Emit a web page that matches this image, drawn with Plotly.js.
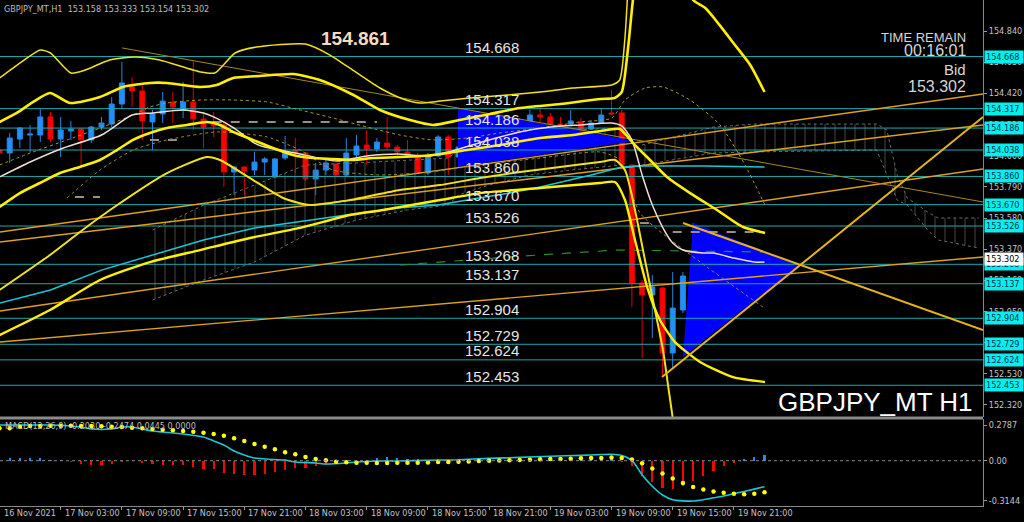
<!DOCTYPE html>
<html><head><meta charset="utf-8">
<script src="https://cdn.plot.ly/plotly-3.0.1.min.js"></script>
<style>html,body{margin:0;padding:0;background:#000;}#chart{width:1024px;height:522px;}</style>
</head><body><div id="chart"></div>
<script>
// ---------- DATA (bar index 0 = 16 Nov 21:00, H1 bars) ----------
const opens  = [154.038,154.018,154.112,154.139,154.139,154.261,154.112,154.166,154.180,154.106,
                154.193,154.213,154.348,154.463,154.436,154.227,154.281,154.362,154.308,154.362,
                154.247,154.220,154.207,153.890,153.924,153.903,153.957,153.856,153.984,154.038,
                154.018,153.843,153.903,153.944,153.870,154.005,154.072,154.045,154.085,154.058,
                154.025,153.998,153.883,153.998,154.126,153.991,154.058,154.186,154.247,154.213,
                154.160,154.153,154.207,154.274,154.261,154.213,154.213,154.227,154.180,154.220,
                154.288,154.288,153.937,153.142,153.061,153.108,152.670,152.960,153.182,153.263,
                153.317,153.364,153.216,153.209,153.236,153.158];
const highs  = [154.052,154.153,154.193,154.207,154.314,154.294,154.261,154.234,154.186,154.200,
                154.261,154.395,154.631,154.530,154.476,154.308,154.429,154.429,154.496,154.638,
                154.294,154.294,154.227,153.930,153.930,154.025,153.991,153.984,154.133,154.119,
                154.025,153.951,153.971,153.951,154.119,154.139,154.173,154.119,154.261,154.072,
                154.106,154.018,154.018,154.139,154.139,154.072,154.227,154.267,154.281,154.240,
                154.240,154.254,154.308,154.321,154.288,154.261,154.308,154.254,154.240,154.321,
                154.443,154.308,153.937,153.162,153.196,153.115,153.216,153.216,153.546,153.378,
                153.418,153.438,153.283,153.297,153.344,153.333];
const lows   = [154.005,153.951,154.052,154.025,154.092,154.092,153.991,154.106,153.924,154.085,
                154.173,154.193,154.321,154.328,154.106,154.038,154.220,154.220,154.254,154.173,
                154.052,154.126,153.789,153.735,153.735,153.870,153.870,153.850,153.971,153.883,
                153.829,153.735,153.870,153.856,153.856,153.991,153.937,154.025,154.038,153.991,
                153.984,153.876,153.870,153.991,153.870,153.971,154.038,154.166,154.173,154.166,
                154.126,154.139,154.186,154.227,154.193,154.173,154.207,154.166,154.173,154.213,
                154.274,153.917,152.980,152.636,152.771,152.508,152.569,152.940,153.014,153.209,
                153.250,153.162,153.176,153.196,153.223,153.154];
const closes = [154.018,154.119,154.186,154.146,154.261,154.112,154.173,154.180,154.106,154.193,
                154.220,154.348,154.490,154.436,154.234,154.281,154.368,154.328,154.362,154.247,
                154.193,154.200,153.890,153.924,153.897,153.957,153.978,153.978,154.025,154.018,
                153.843,153.903,153.951,153.870,154.018,154.065,154.045,154.092,154.058,154.025,
                153.998,153.883,153.998,154.126,153.991,154.058,154.193,154.234,154.200,154.193,
                154.207,154.207,154.274,154.261,154.213,154.200,154.234,154.173,154.220,154.274,
                154.281,153.937,153.142,153.061,153.115,152.670,152.973,153.189,153.263,153.317,
                153.364,153.209,153.203,153.236,153.283,153.302];

const tickBars   = [0,6,12,18,24,30,36,42,48,54,60,66,72];
const tickLabels = ["16 Nov 2021","17 Nov 03:00","17 Nov 09:00","17 Nov 15:00","17 Nov 21:00",
                    "18 Nov 03:00","18 Nov 09:00","18 Nov 15:00","18 Nov 21:00","19 Nov 03:00",
                    "19 Nov 09:00","19 Nov 15:00","19 Nov 21:00"];
const priceTicks = [154.840,154.630,154.420,154.210,154.000,153.790,153.580,153.370,153.160,152.950,152.740,152.530,152.320];
const levels     = [154.668,154.317,154.186,154.038,153.860,153.670,153.526,153.268,153.137,152.904,152.729,152.624,152.453];
const bidPrice   = 153.302;
const highMark   = "154.861";

// moving averages
const maK  = [0,3,6,10,13,15,18,20,21,23,25,26,29,33,36,39,42,44,48,51,54,57,60,61,62,63,64,65,66,67,69,70,72,74,75];
const maV  = [153.856,153.957,154.045,154.139,154.274,154.288,154.308,154.288,154.261,154.186,
              154.085,154.058,154.018,153.964,153.998,154.011,153.998,154.025,154.106,154.160,
              154.193,154.207,154.220,154.200,154.106,153.870,153.667,153.519,153.411,153.364,
              153.344,153.344,153.310,153.283,153.283];
const slowK = [0,5,10,15,20,25,29,34,39,43,47,50,53,58,61,63,69,75];
const slowV = [153.007,153.095,153.229,153.331,153.432,153.513,153.553,153.600,153.647,153.667,153.715,153.748,153.789,153.870,153.924,153.930,153.930,153.924];

// band lines
const outerUpK = [0,2,4,5,7,8.4,10.8,13.3,15.7,19.7,21.1,23.1,25.2,30,32.4,34.9,37.3,39.3,41.2,43.2,46.1,49.8,53,56.2,60,60.8,61.3,61.6];
const outerUpV = [154.523,154.624,154.712,154.692,154.557,154.577,154.645,154.665,154.645,154.564,154.557,154.692,154.732,154.752,154.678,154.564,154.456,154.389,154.355,154.368,154.389,154.409,154.429,154.456,154.476,154.510,154.779,155.116];
const upK = [0,1.7,3.3,4.95,6.9,9.85,12.1,14.75,16.4,19.7,21.3,22.9,25.5,28.8,31.4,34.7,37.3,40.25,42.5,45.1,48.1,51,55,58.9,60.3,61,61.6,62.1,62.4,63.3,65.7,68,69.2,70.6,72.1,73.6,75];
const upV = [154.227,154.288,154.362,154.422,154.355,154.395,154.463,154.490,154.490,154.463,154.476,154.523,154.537,154.550,154.510,154.409,154.308,154.240,154.207,154.240,154.281,154.321,154.348,154.382,154.389,154.429,154.712,155.049,155.184,155.453,155.386,155.049,154.995,154.880,154.746,154.611,154.429];
const lo1K = [0,2,3.97,5.93,7.89,9.85,11.52,13.09,14.75,16.42,18.38,20.34,21.62,22.89,24.85,26.81,28.77,30.74,32.7,34.66,36.62,39.26,42.5,45.83,49.07,52.99,56.23,59.56,60.83,62.11,63.77,65.44,67.7,70.34,72.89,75.05];
const lo1V = [153.654,153.748,153.816,153.883,153.924,153.971,154.038,154.106,154.153,154.186,154.207,154.227,154.207,154.160,154.106,154.052,154.005,153.984,153.978,153.971,153.984,153.991,154.005,154.038,154.072,154.119,154.139,154.173,154.180,154.085,153.971,153.856,153.748,153.634,153.519,153.479];
const lo2K = [0,4.95,7.89,10.83,16.42,20.34,21.62,24.56,27.8,30.44,34.36,39.26,43.19,47.11,51.03,54.95,58.87,60.34,61.32,62.3,63.28,64.26,65.05,65.54,66.03];
const lo2V = [153.095,153.331,153.486,153.634,153.883,153.991,153.971,153.849,153.715,153.667,153.701,153.769,153.802,153.849,153.890,153.924,153.957,153.971,153.903,153.634,153.297,152.960,152.690,152.454,152.219];
const lo3K = [0,4.95,9.85,14.75,19.66,24.56,29.46,34.36,37.6,43.19,47.11,52.99,58.87,60.34,61.32,62.3,63.58,64.75,66.23,68.68,71.91,75.05];
const lo3V = [152.791,152.960,153.162,153.283,153.364,153.445,153.513,153.600,153.634,153.701,153.748,153.782,153.816,153.823,153.701,153.432,153.095,152.893,152.744,152.610,152.508,152.475];
const dot1K = [0,3.28,6.62,9.85,13.09,14.75,16.42,19.66,22.89,26.23,29.46,32.7,36.03,39.26,42.5,45.83,49.07,52.99,56.91,60.05,61.32,63.28,65.05,67.7,70.64,73.09,75.05];
const dot1V = [153.937,154.025,154.106,154.186,154.274,154.328,154.355,154.375,154.375,154.362,154.308,154.254,154.193,154.139,154.106,154.119,154.153,154.186,154.227,154.254,154.375,154.456,154.463,154.375,154.207,153.937,153.667];
const dot2K = [6.62,9.85,13.09,16.42,21.32,26.23,29.46,32.7,37.3,42.21,47.11,52.99,58.87,60.83,62.79,69.36,74.85];
const dot2V = [153.715,153.903,154.038,154.106,154.160,154.126,154.038,153.903,153.870,153.890,153.937,153.984,154.025,153.971,153.614,153.250,152.980];

// cloud spans
const cloudLK = [15,20,25,30,35,40,44,45,48,52,56,61];
const cloudLTop = [153.499,153.667,153.802,153.937,153.951,153.971,153.984,154.038,154.106,154.153,154.173,154.186];
const cloudLBot = [153.027,153.162,153.283,153.465,153.566,153.634,153.667,153.735,153.802,153.870,153.903,153.937];
const cloudRK = [63,66,70,74,86,87,88,89,91,92,96];
const cloudRTop = [154.072,154.126,154.193,154.213,154.213,154.173,153.870,153.715,153.620,153.580,153.580];
const cloudRBot = [153.937,153.971,154.018,154.025,154.038,153.870,153.701,153.667,153.499,153.432,153.378];

// dashed flat segments
const flatStart = [20.9,14.75,7.4,62.8,66];
const flatEnd   = [37,17.4,9.85,64.5,74.85];
const flatLevel = [154.227,154.106,153.721,153.546,153.486];
const greenK = [39.3,43.2,49.8,60.5,74.85];
const greenV = [153.263,153.283,153.317,153.364,153.351];

// trend lines [bar0, price0, bar1, price1]
const trendA = [0.05,153.486,96.42,154.416];
const trendB = [0.05,153.418,96.42,154.207];
const trendC = [0.05,152.953,96.42,153.910];
const trendD = [0.05,152.744,96.42,153.317];
const trendE = [12.01,154.726,96.42,153.688];
const edgeF  = [67.01,153.546,96.42,152.825];
const edgeG  = [64.95,152.508,96.42,154.261];
const tri1K = [44.95,44.95,62.3];
const tri1V = [154.321,153.924,154.099];
const tri2K = [68.0,67.0,78.48];
const tri2V = [153.546,152.643,153.263];

// MACD panel
const histV = [0.000,0.020,0.020,0.020,0.023,0.008,0.004,-0.008,-0.023,-0.031,
               -0.031,-0.023,-0.008,-0.004,-0.016,-0.023,-0.031,-0.031,-0.031,-0.047,
               -0.062,-0.062,-0.094,-0.101,-0.109,-0.109,-0.101,-0.086,-0.070,-0.055,
               -0.055,-0.039,-0.031,-0.023,-0.016,-0.004,0.004,0.023,0.031,0.023,
               0.016,0.010,0.008,0.012,0.006,0.004,0.008,0.012,0.014,0.010,
               0.008,0.012,0.016,0.014,0.012,0.010,0.012,0.010,0.008,0.012,
               0.014,-0.010,-0.040,-0.120,-0.170,-0.210,-0.220,-0.200,-0.160,-0.120,
               -0.080,-0.045,-0.015,0.010,0.030,0.0445];
const signalV = [0.253,0.253,0.266,0.271,0.271,0.273,0.273,0.273,0.271,0.271,
                 0.269,0.266,0.263,0.258,0.253,0.248,0.242,0.238,0.232,0.227,
                 0.219,0.209,0.195,0.175,0.154,0.130,0.109,0.089,0.066,0.050,
                 0.029,0.013,0.003,-0.008,-0.013,-0.016,-0.016,-0.018,-0.018,-0.016,
                 -0.016,-0.016,-0.014,-0.011,-0.010,-0.009,-0.006,-0.003,-0.001,0.002,
                 0.004,0.005,0.008,0.011,0.013,0.014,0.016,0.019,0.021,0.022,
                 0.025,0.022,0.010,-0.020,-0.060,-0.100,-0.140,-0.175,-0.205,-0.225,
                 -0.240,-0.250,-0.258,-0.262,-0.258,-0.2474];
const macdK = [0,3,5,8,9,11,12,13,14,15,16,18,20,21,22,23,24,25,27,28,29,31,32,34,35,37,39,42,45,48,51,54,57,59,60,61,62,63,64,65,66,67,68,69,70,71,72,73,74,75];
const macdV = [0.279,0.279,0.279,0.263,0.248,0.248,0.263,0.263,0.248,0.232,0.224,0.209,0.185,0.155,0.123,0.076,0.045,0.021,0.009,0.005,
               -0.010,-0.018,-0.026,-0.018,-0.010,-0.002,-0.002,0.004,0.008,0.018,0.026,0.035,0.042,0.048,0.050,0.040,0.002,-0.110,-0.200,-0.268,
               -0.305,-0.314,-0.315,-0.305,-0.290,-0.276,-0.258,-0.240,-0.222,-0.203];
const macdTicks = [0.2787,0,-0.3144];
const macdTickText = ["0.2787","0.00","-0.3144"];
const macdLabel = "MACD(12,26,9) -0.2030 -0.2474 0.0445 0.0000";
const headerText = "GBPJPY_MT,H1&nbsp;&nbsp;153.158 153.333 153.154 153.302";

// ---------- LAYOUT CONSTANTS ----------
const W = 983, H = 506;
const xMin = 0.05, xMax = 96.42;
const yMin = 152.239, yMax = 155.049;
const mMin = -0.354, mMax = 0.326;
const SANS = "Liberation Sans, Arial, sans-serif";
const SMALL = "DejaVu Sans Condensed, Liberation Sans, Arial, sans-serif";
const px = x => x / W, py = y => 1 - y / H;
const barToPaper = b => Math.max(0, (b - xMin) / (xMax - xMin));

const bars = opens.map((_, i) => i);
const traces = [];
function line(xs, ys, color, width, dash, shape) {
  traces.push({type:'scatter', mode:'lines', x:xs, y:ys, hoverinfo:'skip',
    line:{color:color, width:width, dash:dash||'solid', shape:shape||'linear', smoothing:0.6}});
}
function cloud(k, bot, top) {
  traces.push({type:'scatter', mode:'lines', x:k, y:bot, hoverinfo:'skip', line:{color:'#6a6a6a', width:1, dash:'dot'}});
  traces.push({type:'scatter', mode:'lines', x:k, y:top, hoverinfo:'skip', fill:'tonexty',
    fillcolor:'rgba(0,0,0,0)', line:{color:'#6a6a6a', width:1, dash:'dot'},
    fillpattern:{shape:'|', fgcolor:'#585858', bgcolor:'rgba(0,0,0,0)', size:10, solidity:0.08}});
}
cloud(cloudLK, cloudLBot, cloudLTop);
cloud(cloudRK, cloudRBot, cloudRTop);
[[tri1K, tri1V],[tri2K, tri2V]].forEach(t => traces.push({type:'scatter', mode:'lines', x:t[0], y:t[1],
  fill:'toself', fillcolor:'#0000ff', line:{width:0}, hoverinfo:'skip'}));

// horizontal levels
const lx = [], ly = [];
levels.forEach(v => { lx.push(xMin, xMax, null); ly.push(v, v, null); });
line(lx, ly, '#1ca9b0', 1);

// trend lines
[trendA, trendB, trendC, trendD].forEach(t => line([t[0], t[2]], [t[1], t[3]], '#dca21c', 1.4));
line([trendE[0], trendE[2]], [trendE[1], trendE[3]], '#a8861c', 1);

line(slowK, slowV, '#19c8d8', 1.5);
const fx = [], fy = [];
flatStart.forEach((s, i) => { fx.push(s, flatEnd[i], null); fy.push(flatLevel[i], flatLevel[i], null); });
line(fx, fy, '#9c8e86', 2, 'dash');
line(greenK, greenV, '#2f8a2a', 1.2, 'dash');

traces.push({type:'candlestick', x:bars, open:opens, high:highs, low:lows, close:closes, hoverinfo:'skip',
  increasing:{line:{color:'#2a84e0', width:1}, fillcolor:'#1e90ff'},
  decreasing:{line:{color:'#e00000', width:1}, fillcolor:'#ff0000'}, whiskerwidth:0});

line(dot1K, dot1V, '#a89a20', 1, 'dot', 'spline');
line(dot2K, dot2V, '#9a8c20', 1, 'dot', 'spline');
line(maK, maV, '#f2dcd4', 1.5, 'solid', 'spline');
line(outerUpK, outerUpV, '#f2e21a', 1.5, 'solid', 'spline');
line(upK, upV, '#fff000', 2.6, 'solid', 'spline');
line(lo1K, lo1V, '#fff000', 2.6, 'solid', 'spline');
line(lo2K, lo2V, '#f2e21a', 2, 'solid', 'spline');
line(lo3K, lo3V, '#fff000', 2.4, 'solid', 'spline');
line([edgeF[0], edgeF[2]], [edgeF[1], edgeF[3]], '#e8b414', 2);
line([edgeG[0], edgeG[2]], [edgeG[1], edgeG[3]], '#e8b414', 2);

// MACD panel
traces.push({type:'bar', x:bars, y:histV, xaxis:'x', yaxis:'y2', width:0.22, hoverinfo:'skip',
  marker:{color:histV.map(v => v >= 0 ? '#1e8fff' : '#ff0000'), line:{width:0}}});
traces.push({type:'scatter', mode:'lines', x:macdK, y:macdV, xaxis:'x', yaxis:'y2', hoverinfo:'skip',
  line:{color:'#19c8d8', width:1.6, shape:'spline', smoothing:0.6}});
traces.push({type:'scatter', mode:'markers', x:bars, y:signalV, xaxis:'x', yaxis:'y2', hoverinfo:'skip',
  marker:{color:'#ffff00', size:4.5}});

// ---------- ANNOTATIONS ----------
const ann = [];
levels.forEach(v => {
  ann.push({xref:'paper', yref:'y', x:px(463), y:v, xanchor:'left', yanchor:'middle', yshift:9, showarrow:false,
    text:v.toFixed(3), font:{family:SANS, size:15, color:'#e6e6e6'}});
  ann.push({xref:'paper', yref:'y', x:1, y:v, xanchor:'left', yanchor:'middle', xshift:1, showarrow:false,
    text:v.toFixed(3), bgcolor:'#00f0f0', borderpad:1, width:36, align:'left',
    font:{family:SMALL, size:9, color:'#00304a'}});
});
ann.push({xref:'paper', yref:'y', x:1, y:bidPrice, xanchor:'left', yanchor:'middle', xshift:1, showarrow:false,
  text:bidPrice.toFixed(3), bgcolor:'#ffffff', borderpad:1, width:36, align:'left',
  font:{family:SMALL, size:9, color:'#000000'}});
tickBars.forEach((b, i) => ann.push({xref:'paper', yref:'paper', x:barToPaper(b), y:py(513), xanchor:'left',
  yanchor:'middle', xshift:2, showarrow:false, text:tickLabels[i], font:{family:SMALL, size:9, color:'#c4c4c4'}}));
ann.push({xref:'paper', yref:'paper', x:px(2), y:py(9), xanchor:'left', yanchor:'middle', showarrow:false,
  text:headerText, font:{family:SMALL, size:9, color:'#bdbdbd'}});
ann.push({xref:'paper', yref:'paper', x:px(355), y:py(38), xanchor:'center', yanchor:'middle', showarrow:false,
  text:'<b>' + highMark + '</b>', font:{family:SANS, size:19, color:'#f3dcc2'}});
[["TIME REMAIN",37,13],["00:16:01",51,16],["Bid",70,15],[bidPrice.toFixed(3),86,16]].forEach(t =>
  ann.push({xref:'paper', yref:'paper', x:px(968), y:py(t[1]), xanchor:'right', yanchor:'middle', showarrow:false,
    text:t[0], font:{family:SANS, size:t[2], color:'#d6d6d6'}}));
ann.push({xref:'paper', yref:'paper', x:px(975), y:py(402), xanchor:'right', yanchor:'middle', showarrow:false,
  text:'GBPJPY_MT H1', font:{family:SANS, size:26, color:'#ffffff'}});
ann.push({xref:'paper', yref:'paper', x:px(3), y:py(426), xanchor:'left', yanchor:'middle', showarrow:false,
  text:macdLabel, font:{family:SMALL, size:9, color:'#bdbdbd'}});

const axisFont = {family:SMALL, size:9, color:'#c4c4c4'};
const layout = {
  width:1024, height:522, paper_bgcolor:'#000', plot_bgcolor:'#000',
  margin:{l:0, r:41, t:0, b:16}, showlegend:false, dragmode:false, bargap:0,
  xaxis:{range:[xMin, xMax], anchor:'y2', type:'linear', showgrid:false, zeroline:false,
    tickvals:tickBars, showticklabels:false, ticks:'outside', ticklen:3, tickcolor:'#999',
    showline:true, linecolor:'#888', rangeslider:{visible:false}, automargin:false, fixedrange:true},
  yaxis:{domain:[(H-417)/H, 1], range:[yMin, yMax], side:'right', showgrid:false, zeroline:false,
    tickvals:priceTicks, ticktext:priceTicks.map(v => v.toFixed(3)), ticks:'outside', ticklen:3,
    tickcolor:'#999', tickfont:axisFont, showline:true, linecolor:'#888', automargin:false, fixedrange:true},
  yaxis2:{domain:[0, (H-419)/H], range:[mMin, mMax], side:'right', showgrid:false, zeroline:false,
    tickvals:macdTicks, ticktext:macdTickText, ticks:'outside', ticklen:3, tickcolor:'#999',
    tickfont:axisFont, showline:true, linecolor:'#888', automargin:false, fixedrange:true},
  shapes:[
    {type:'line', xref:'paper', yref:'paper', x0:0, x1:1, y0:py(418), y1:py(418), line:{color:'#8a8a8a', width:3}},
    {type:'line', xref:'paper', yref:'y2', x0:0, x1:1, y0:0, y1:0, line:{color:'#8a8a8a', width:1, dash:'dot'}}
  ],
  annotations:ann
};
Plotly.newPlot('chart', traces, layout, {staticPlot:true, displayModeBar:false});
</script></body></html>
